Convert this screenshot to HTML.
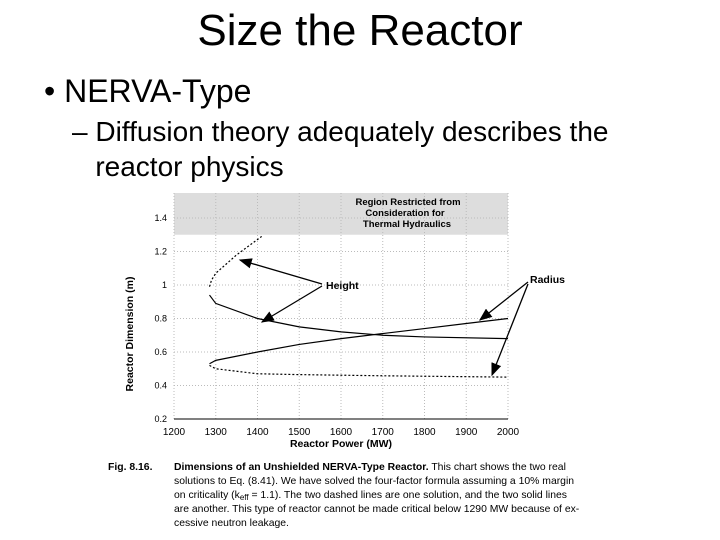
<!DOCTYPE html>
<html><head><meta charset="utf-8"><style>
body{margin:0;width:720px;height:540px;background:#fff;font-family:"Liberation Sans",Arial,sans-serif;position:relative;overflow:hidden}
.t{position:absolute;white-space:nowrap;color:#000}
</style></head><body>
<div class="t" style="left:0;width:720px;text-align:center;top:6px;font-size:44px">Size the Reactor</div>
<div class="t" style="left:44px;top:73px;font-size:32px">• NERVA-Type</div>
<div class="t" style="left:72px;top:114px;font-size:28px;line-height:35px">– Diffusion theory adequately describes the<br>&nbsp;&nbsp;&nbsp;reactor physics</div>
<svg width="720" height="540" style="position:absolute;left:0;top:0">
<g id="g"></g>
<text x="129" y="330" transform="rotate(-90 133 330)" text-anchor="middle" font-size="10.5" font-weight="bold">Reactor Dimension (m)</text>
<text x="341" y="447" text-anchor="middle" font-size="10.5" font-weight="bold">Reactor Power (MW)</text>
<text x="408" y="205" text-anchor="middle" font-size="9.5" font-weight="bold"><tspan x="408">Region Restricted from</tspan><tspan x="405" dy="11">Consideration for</tspan><tspan x="407" dy="11">Thermal Hydraulics</tspan></text>
<text x="326" y="289" font-size="10.5" font-weight="bold">Height</text>
<text x="530" y="283" font-size="10.5" font-weight="bold">Radius</text>
<g font-size="10.4">
<text x="108" y="470" font-weight="bold">Fig. 8.16.</text>
<text x="174" y="470"><tspan font-weight="bold">Dimensions of an Unshielded NERVA-Type Reactor.</tspan> This chart shows the two real</text>
<text x="174" y="484">solutions to Eq. (8.41). We have solved the four-factor formula assuming a 10% margin</text>
<text x="174" y="498">on criticality (k<tspan font-size="8" dy="2">eff</tspan><tspan dy="-2"> = 1.1). The two dashed lines are one solution, and the two solid lines</tspan></text>
<text x="174" y="512">are another. This type of reactor cannot be made critical below 1290 MW because of ex-</text>
<text x="174" y="526">cessive neutron leakage.</text>
</g>
</svg>
<script>
const xTicks=[1200,1300,1400,1500,1600,1700,1800,1900,2000];
const yTicks=[0.2,0.4,0.6,0.8,1,1.2,1.4];
const heightSolidX=[1285,1300,1400,1500,1600,1700,1800,2000];
const heightSolidY=[0.94,0.89,0.80,0.75,0.72,0.70,0.69,0.68];
const heightDashX=[1285,1290,1300,1350,1410];
const heightDashY=[0.99,1.03,1.07,1.18,1.29];
const radiusSolidX=[1285,1300,1400,1500,1600,1700,1800,1900,2000];
const radiusSolidY=[0.53,0.55,0.60,0.645,0.68,0.71,0.74,0.77,0.80];
const radiusDashX=[1285,1300,1400,1500,1700,2000];
const radiusDashY=[0.52,0.50,0.47,0.465,0.458,0.45];
const X=v=>174+(v-1200)*(334/800);
const Y=v=>419-(v-0.2)*(201/1.2);
const g=document.getElementById('g');const NS='http://www.w3.org/2000/svg';
function mk(t,a){const e=document.createElementNS(NS,t);for(const k in a)e.setAttribute(k,a[k]);g.appendChild(e);return e;}
let r=mk('rect',{x:X(1200),y:193,width:X(2000)-X(1200),height:Y(1.3)-193,fill:'#ddd'});


xTicks.forEach(v=>{let l=mk('line',{x1:X(v),x2:X(v),y1:Y(0.2),y2:193,stroke:'#bbb','stroke-dasharray':'1 2'});


let t=mk('text',{x:X(v),y:435,'text-anchor':'middle','font-size':10});t.textContent=v;

});
yTicks.forEach(v=>{let l=mk('line',{x1:X(1200),x2:X(2000),y1:Y(v),y2:Y(v),stroke:'#bbb','stroke-dasharray':'1 2'});


let t=mk('text',{x:167,y:Y(v)+3,'text-anchor':'end','font-size':9});t.textContent=v;

});
mk('line',{x1:X(1200),x2:X(2000),y1:Y(0.2),y2:Y(0.2),stroke:'#000'});
function series(xs,ys,dash,name){let p=mk('polyline',{points:xs.map((x,i)=>X(x)+','+Y(ys[i])).join(' '),fill:'none',stroke:'#000','stroke-width':1.2,'stroke-dasharray':dash?'2 2':'none'});

}
series(heightSolidX,heightSolidY,false,'height-solid-line');
series(heightDashX,heightDashY,true,'height-dashed-line');
series(radiusSolidX,radiusSolidY,false,'radius-solid-line');
series(radiusDashX,radiusDashY,true,'radius-dashed-line');
mk('defs',{}).innerHTML='<marker id="ah" markerWidth="10" markerHeight="8" refX="9" refY="4" orient="auto"><path d="M0,0L10,4L0,8z"/></marker>';
[[322,284,240,260],[322,286,262,322],[528,282,480,320],[528,284,492,375]].forEach(a=>{let l=mk('line',{x1:a[0],y1:a[1],x2:a[2],y2:a[3],stroke:'#000','stroke-width':1.3,'marker-end':'url(#ah)'});

});
</script>
</body></html>
